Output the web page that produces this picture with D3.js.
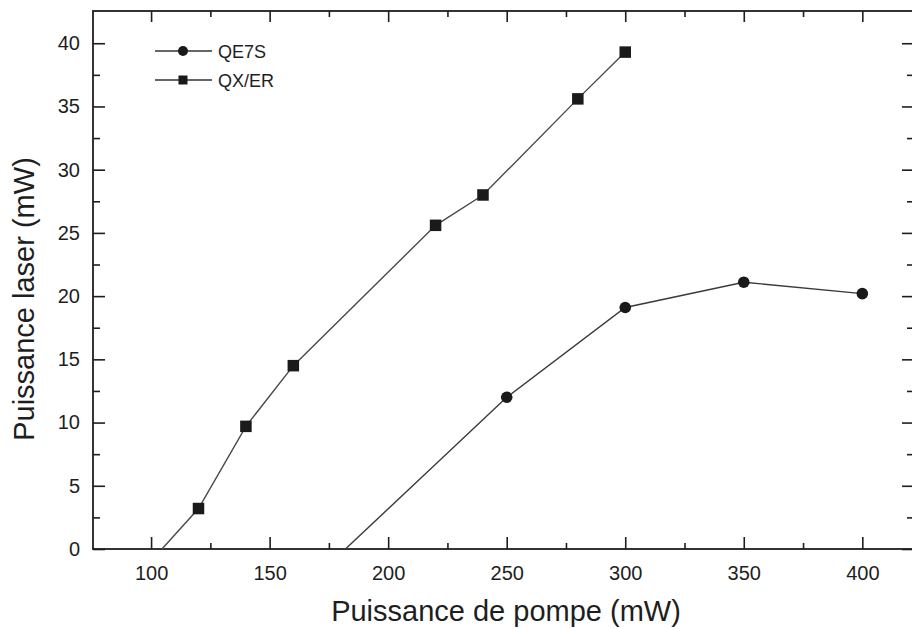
<!DOCTYPE html>
<html>
<head>
<meta charset="utf-8">
<script src="https://cdn.jsdelivr.net/npm/d3@7/dist/d3.min.js"></script>
<style>
  html, body { margin: 0; padding: 0; background: #fff; }
  svg { display: block; font-family: "Liberation Sans", Arial, Helvetica, sans-serif; }
</style>
</head>
<body>
<svg id="chart" width="912" height="629"></svg>
<script>
// ---- data ----
const seriesNames = ["QE7S", "QX/ER"];
const qe7sPump = [250, 300, 350, 400];
const qe7sLaser = [12.0, 19.1, 21.1, 20.2];
const qe7sThreshold = 182;
const qxerPump = [120, 140, 160, 220, 240, 280, 300];
const qxerLaser = [3.2, 9.7, 14.5, 25.6, 28.0, 35.6, 39.3];
const qxerThreshold = 104.6;
const xTicks = [100, 150, 200, 250, 300, 350, 400];
const xMinorTicks = [125, 175, 225, 275, 325, 375];
const yTicks = [0, 5, 10, 15, 20, 25, 30, 35, 40];
const yMinorTicks = [2.5, 7.5, 12.5, 17.5, 22.5, 27.5, 32.5, 37.5];
const xTitle = "Puissance de pompe (mW)";
const yTitle = "Puissance laser (mW)";

// ---- layout ----
const pL = 93, pR = 914, pT = 11, pB = 549;
const svg = d3.select("#chart");
const x = d3.scaleLinear().domain([75.5, 421.8]).range([pL, pR]);
const y = d3.scaleLinear().domain([0, 42.55]).range([pB, pT]);
const ink = "#1e1e1e";

// frame
svg.append("rect").attr("x", pL).attr("y", pT)
  .attr("width", pR - pL).attr("height", pB - pT)
  .attr("fill", "none").attr("stroke", ink).attr("stroke-width", 1.8);

function styleAxis(g) {
  g.select(".domain").remove();
  g.selectAll(".tick line").attr("stroke", ink).attr("stroke-width", 1.6);
}

// bottom axis (ticks inward)
const gB = svg.append("g").attr("transform", `translate(0,${pB})`)
  .call(d3.axisBottom(x).tickValues(xTicks).tickSizeInner(-12).tickSizeOuter(0).tickPadding(17));
styleAxis(gB);
gB.selectAll("text").attr("font-size", 20).attr("fill", ink)
  .attr("font-family", "Liberation Sans, Arial, sans-serif");
svg.append("g").attr("transform", `translate(0,${pB})`)
  .call(d3.axisBottom(x).tickValues(xMinorTicks).tickSizeInner(-6).tickSizeOuter(0).tickFormat(""))
  .call(styleAxis);

// top axis
svg.append("g").attr("transform", `translate(0,${pT})`)
  .call(d3.axisTop(x).tickValues(xTicks).tickSizeInner(-11).tickSizeOuter(0).tickFormat(""))
  .call(styleAxis);
svg.append("g").attr("transform", `translate(0,${pT})`)
  .call(d3.axisTop(x).tickValues(xMinorTicks).tickSizeInner(-6).tickSizeOuter(0).tickFormat(""))
  .call(styleAxis);

// left axis
const gL = svg.append("g").attr("transform", `translate(${pL},0)`)
  .call(d3.axisLeft(y).tickValues(yTicks).tickSizeInner(-12).tickSizeOuter(0).tickPadding(13));
styleAxis(gL);
gL.selectAll("text").attr("font-size", 20).attr("fill", ink)
  .attr("font-family", "Liberation Sans, Arial, sans-serif");
svg.append("g").attr("transform", `translate(${pL},0)`)
  .call(d3.axisLeft(y).tickValues(yMinorTicks).tickSizeInner(-7).tickSizeOuter(0).tickFormat(""))
  .call(styleAxis);

// right axis
svg.append("g").attr("transform", `translate(${pR},0)`)
  .call(d3.axisRight(y).tickValues(yTicks).tickSizeInner(-12).tickSizeOuter(0).tickFormat(""))
  .call(styleAxis);
svg.append("g").attr("transform", `translate(${pR},0)`)
  .call(d3.axisRight(y).tickValues(yMinorTicks).tickSizeInner(-7).tickSizeOuter(0).tickFormat(""))
  .call(styleAxis);

// axis titles
svg.append("text").attr("x", 506).attr("y", 621)
  .attr("text-anchor", "middle").attr("font-size", 29).attr("fill", ink).text(xTitle);
svg.append("text").attr("transform", "translate(34,299) rotate(-90)")
  .attr("text-anchor", "middle").attr("font-size", 29).attr("fill", ink).text(yTitle);

// lines
const line = d3.line().x(d => x(d[0])).y(d => y(d[1]));
const qe7sPts = [[qe7sThreshold, 0]].concat(qe7sPump.map((p, i) => [p, qe7sLaser[i]]));
const qxerPts = [[qxerThreshold, 0]].concat(qxerPump.map((p, i) => [p, qxerLaser[i]]));

svg.append("path").datum(qe7sPts).attr("d", line)
  .attr("fill", "none").attr("stroke", "#3a3a3a").attr("stroke-width", 1.4);
svg.append("path").datum(qxerPts).attr("d", line)
  .attr("fill", "none").attr("stroke", "#4a4a4a").attr("stroke-width", 1.4);

// markers
svg.selectAll("circle.qe7s").data(qe7sPump.map((p, i) => [p, qe7sLaser[i]])).enter()
  .append("circle").attr("class", "qe7s")
  .attr("cx", d => x(d[0])).attr("cy", d => y(d[1])).attr("r", 5.8).attr("fill", "#1a1a1a");
const sq = 11.5;
svg.selectAll("rect.qxer").data(qxerPump.map((p, i) => [p, qxerLaser[i]])).enter()
  .append("rect").attr("class", "qxer")
  .attr("x", d => x(d[0]) - sq / 2).attr("y", d => y(d[1]) - sq / 2)
  .attr("width", sq).attr("height", sq).attr("fill", "#1a1a1a");

// legend
const legY = [51, 80];
seriesNames.forEach((name, i) => {
  const g = svg.append("g");
  g.append("line").attr("x1", 155).attr("x2", 212).attr("y1", legY[i]).attr("y2", legY[i])
    .attr("stroke", "#333").attr("stroke-width", 1.4);
  if (i === 0) {
    g.append("circle").attr("cx", 183).attr("cy", legY[i]).attr("r", 5).attr("fill", "#1a1a1a");
  } else {
    g.append("rect").attr("x", 183 - 4.5).attr("y", legY[i] - 4.5).attr("width", 9).attr("height", 9)
      .attr("fill", "#1a1a1a");
  }
  g.append("text").attr("x", 218).attr("y", legY[i] + 6.5).attr("font-size", 18)
    .attr("fill", ink).text(name);
});
</script>
</body>
</html>
